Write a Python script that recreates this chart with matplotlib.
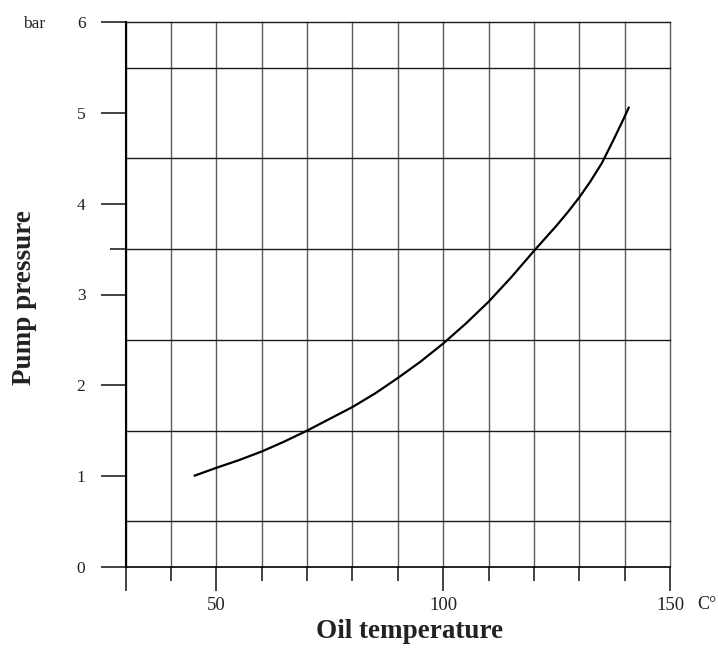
import matplotlib
matplotlib.use("Agg")
import matplotlib.pyplot as plt
import matplotlib.transforms as mtransforms
from matplotlib.ticker import FixedLocator, NullFormatter

# ---- data ----
oil_temperature = [45, 50, 55, 60, 65, 70, 75, 80, 85, 90, 95, 100, 105, 110,
                   115, 120, 125, 127.5, 130, 132.5, 135, 137.5, 140, 141]
pump_pressure = [1.00, 1.09, 1.175, 1.27, 1.38, 1.50, 1.63, 1.76, 1.91, 2.08, 2.26, 2.46, 2.68, 2.92,
                 3.19, 3.48, 3.76, 3.91, 4.07, 4.25, 4.45, 4.70, 4.96, 5.07]

x_major = [30, 50, 100, 150]
x_major_labels = ["", "50", "100", "150"]
x_grid = [30, 40, 50, 60, 70, 80, 90, 100, 110, 120, 130, 140, 150]
y_major = [0, 1, 2, 3, 4, 5, 6]
y_major_labels = ["0", "1", "2", "3", "4", "5", "6"]
y_grid = [0.5, 1.5, 2.5, 3.5, 4.5, 5.5, 6]
y_minor_tick = [3.5]

plt.rcParams['font.family'] = ['Liberation Serif', 'DejaVu Serif']

fig = plt.figure(figsize=(7.18, 6.57), dpi=100)
ax = fig.add_axes([125.7 / 718, 1 - 566.7 / 657, (670 - 125.7) / 718, (566.7 - 22.3) / 657])
ax.set_xlim(30, 150)
ax.set_ylim(0, 6)

# grid
for xv in x_grid:
    ax.axvline(xv, color='#5a5a5a', lw=1.0, zorder=1, clip_on=False)
for yv in y_grid:
    ax.axhline(yv, color='#1a1a1a', lw=1.0, zorder=1, clip_on=False)

# curve
ax.plot(oil_temperature, pump_pressure, color='black', lw=1.6, zorder=3,
        solid_capstyle='butt', solid_joinstyle='round')

# spines
for s in ['top', 'right']:
    ax.spines[s].set_visible(False)
ax.spines['left'].set_linewidth(1.5)
ax.spines['bottom'].set_linewidth(1.2)
ax.spines['left'].set_zorder(2)
ax.spines['bottom'].set_zorder(2)

# ticks
ax.xaxis.set_major_locator(FixedLocator(x_major))
ax.set_xticklabels(x_major_labels)
ax.xaxis.set_minor_locator(FixedLocator([v for v in x_grid if v not in x_major]))
ax.xaxis.set_minor_formatter(NullFormatter())
ax.tick_params(axis='x', which='major', direction='out', length=17, width=1.2,
               color='#222222', pad=5, labelsize=13.5, labelcolor='#222222')
ax.tick_params(axis='x', which='minor', direction='out', length=10, width=1.2,
               color='#222222')

ax.yaxis.set_major_locator(FixedLocator(y_major))
ax.set_yticklabels(y_major_labels)
ax.yaxis.set_minor_locator(FixedLocator(y_minor_tick))
ax.yaxis.set_minor_formatter(NullFormatter())
ax.tick_params(axis='y', which='major', direction='out', length=18, width=1.2,
               color='#222222', pad=11, labelsize=12.5, labelcolor='#222222')
ax.tick_params(axis='y', which='minor', direction='out', length=11.5, width=1.2,
               color='#222222')

# unit labels
trans_y = mtransforms.blended_transform_factory(fig.transFigure, ax.transData)
ax.text(23 / 718, 6, "bar", transform=trans_y, ha='left', va='center_baseline',
        fontsize=12.5, color='#222222')
fig.text(697 / 718, 1 - 596 / 657, "C°", ha='left', va='top', fontsize=13,
         color='#222222')

# axis titles
fig.text(409.5 / 718, 1 - 632 / 657, "Oil temperature", ha='center', va='center',
         fontsize=19.5, fontweight='bold', color='#222222')
fig.text(25 / 718, 1 - 298 / 657, "Pump pressure", ha='center', va='center',
         rotation=90, fontsize=19.5, fontweight='bold', color='#222222')

fig.savefig("out.png", dpi=100)
